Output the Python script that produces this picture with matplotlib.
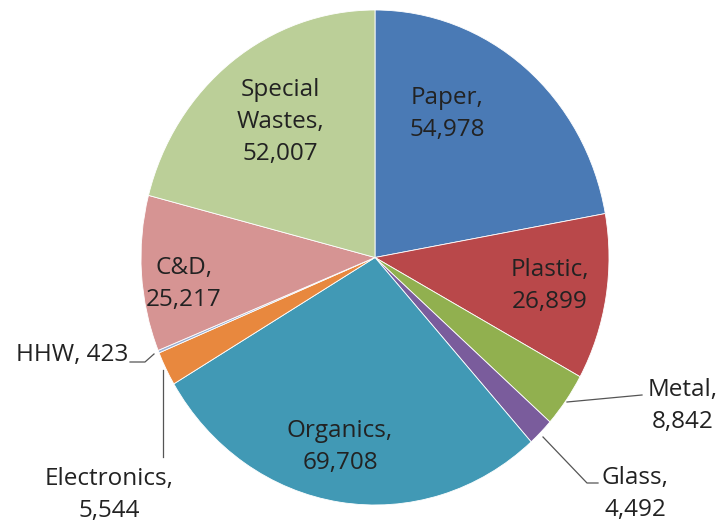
import matplotlib.pyplot as plt
from matplotlib.lines import Line2D

# waste stream tonnages
categories = ['Paper', 'Plastic', 'Metal', 'Glass', 'Organics',
              'Electronics', 'HHW', 'C&D', 'Special\nWastes']
tons = [54978, 26899, 8842, 4492, 69708, 5544, 423, 25217, 52007]
colors = ['#4A7AB5', '#B9484A', '#91B04F', '#7A5C9C', '#4199B5',
          '#E8883E', '#9AAFD3', '#D69493', '#BBCF98']

# label centres and leader lines, in pixels from the top-left corner
label_px = [(447, 114), (550, 286), (683, 406), (635, 494), (340, 447),
            (109, 495), (72, 355), (184, 284), (280, 122)]
leaders = [
    [(567, 402), (642, 395)],
    [(543, 437), (587, 483), (598, 483)],
    [(130, 362), (145, 362), (154, 354)],
    [(163, 370), (163, 457)],
]

W, H = 723, 524


def fig_xy(x, y):
    return x / W, 1 - y / H


plt.rcParams['font.family'] = ['Open Sans', 'DejaVu Sans']

fig = plt.figure(figsize=(W / 100, H / 100), dpi=100)
ax = fig.add_axes([141 / W, 1 - 505 / H, 468 / W, 495 / H])
ax.pie(tons, colors=colors, startangle=90, counterclock=False, radius=1,
       wedgeprops=dict(edgecolor='white', linewidth=0.6))
# the pie is drawn slightly taller than wide
ax.set_aspect('auto')
ax.set_xlim(-1, 1)
ax.set_ylim(-1, 1)

for cat, val, (x, y) in zip(categories, tons, label_px):
    if cat == 'HHW':
        txt = f'{cat}, {val:,}'
    else:
        txt = f'{cat},\n{val:,}'
    fx, fy = fig_xy(x, y)
    fig.text(fx, fy, txt, ha='center', va='center', multialignment='center',
             fontsize=17.5, color='#222222', linespacing=1.42)

for pts in leaders:
    xs = [fig_xy(x, y)[0] for x, y in pts]
    ys = [fig_xy(x, y)[1] for x, y in pts]
    fig.add_artist(Line2D(xs, ys, transform=fig.transFigure,
                          color='#555555', linewidth=0.9))

fig.savefig('out.png', dpi=100)
